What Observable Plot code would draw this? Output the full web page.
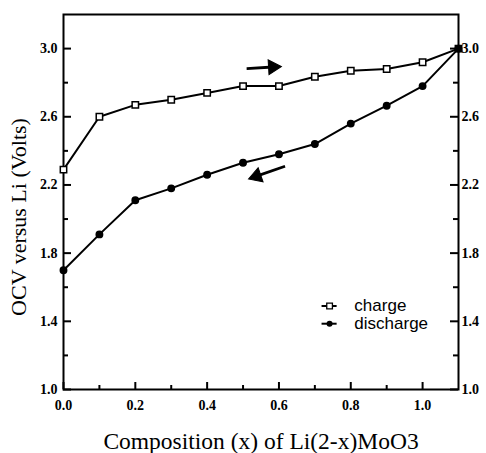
<!DOCTYPE html>
<html>
<head>
<meta charset="utf-8">
<script src="https://cdn.jsdelivr.net/npm/d3@7"></script>
<script src="https://cdn.jsdelivr.net/npm/@observablehq/plot@0.6"></script>
<style>
  html, body { margin: 0; padding: 0; background: #fff; }
  #chart svg { display: block; }
</style>
</head>
<body>
<div id="chart"></div>
<script>
// ---- data ----
const composition = [0.0, 0.1, 0.2, 0.3, 0.4, 0.5, 0.6, 0.7, 0.8, 0.9, 1.0, 1.1];
const chargeOCV    = [2.29, 2.60, 2.67, 2.70, 2.74, 2.78, 2.78, 2.835, 2.87, 2.88, 2.92, 3.0];
const dischargeOCV = [1.70, 1.91, 2.11, 2.18, 2.26, 2.33, 2.38, 2.44, 2.56, 2.665, 2.78, 3.0];

const seriesNames = ["charge", "discharge"];

// direction arrows (start / end in data units)
const arrowFromX = [0.51, 0.617];
const arrowFromY = [2.883, 2.31];
const arrowToX   = [0.608, 0.514];
const arrowToY   = [2.895, 2.234];

// ticks
const yLabelTicks = [1.0, 1.4, 1.8, 2.2, 2.6, 3.0];
const yMinorTicks = [1.2, 1.6, 2.0, 2.4, 2.8];
const xLabelTicks = [0.0, 0.2, 0.4, 0.6, 0.8, 1.0];
const xMinorTicks = [0.1, 0.3, 0.5, 0.7, 0.9];

const xTitle = "Composition (x) of Li(2-x)MoO3";
const yTitle = "OCV versus Li (Volts)";

// ---- layout ----
const W = 486, H = 453, ML = 63, MR = 28, MT = 14, MB = 64;
const PW = W - ML - MR, PH = H - MT - MB;
const xDomain = [0, 1.1], yDomain = [1.0, 3.2];
const kx = PW / (xDomain[1] - xDomain[0]);   // px per x unit
const ky = PH / (yDomain[1] - yDomain[0]);   // px per y unit

// ---- tables ----
const charge = composition.map((x, i) => ({x, y: chargeOCV[i]}));
const discharge = composition.map((x, i) => ({x, y: dischargeOCV[i]}));
const headBack = 9; // px from tip to triangle centre
const arrows = arrowFromX.map((_, i) => {
  const dxp = (arrowToX[i] - arrowFromX[i]) * kx;
  const dyp = -(arrowToY[i] - arrowFromY[i]) * ky;
  const len = Math.hypot(dxp, dyp);
  const ux = dxp / len, uy = dyp / len;
  return {
    x1: arrowFromX[i], y1: arrowFromY[i],
    hx: arrowToX[i] - ux * headBack / kx,
    hy: arrowToY[i] + uy * headBack / ky,
    angle: Math.atan2(ux, -uy) * 180 / Math.PI
  };
});

// legend placement (data units)
const legLineX1 = 0.72, legLineX2 = 0.762, legTextX = 0.81;
const legRows = [1.49, 1.386];
const legend = seriesNames.map((name, i) => ({name, y: legRows[i]}));

const serif = "Liberation Serif";
const sans = "Liberation Sans";

const tickFmt = d => d.toFixed(1);
const lab = {fontSize: 14, fontWeight: "bold", fontFamily: serif};
const tick = {stroke: "black", strokeWidth: 2};

const chart = Plot.plot({
  width: W,
  height: H,
  marginLeft: ML,
  marginRight: MR,
  marginTop: MT,
  marginBottom: MB,
  style: {fontFamily: serif, background: "white", color: "black"},
  x: {domain: xDomain},
  y: {domain: yDomain},
  marks: [
    // tick labels
    Plot.axisY(yLabelTicks, {anchor: "left", tickSize: 0, tickPadding: 6, tickFormat: tickFmt, ...lab, label: null}),
    Plot.axisY(yLabelTicks, {anchor: "right", tickSize: 0, tickPadding: 3, tickFormat: tickFmt, ...lab, label: null}),
    Plot.axisX(xLabelTicks, {anchor: "bottom", tickSize: 0, tickPadding: 11, tickFormat: tickFmt, ...lab, label: null}),
    // titles
    Plot.text([yTitle], {frameAnchor: "left", textAnchor: "middle", lineAnchor: "middle", rotate: -90, dx: -45, dy: 15, fontSize: 22, fontFamily: serif}),
    Plot.text([xTitle], {frameAnchor: "bottom", textAnchor: "middle", lineAnchor: "middle", dy: 52, fontSize: 23.5, fontFamily: serif}),
    // frame
    Plot.frame({stroke: "black", strokeWidth: 2}),
    // inward ticks
    Plot.ruleY(yLabelTicks, {y: d => d, x1: xDomain[0], x2: xDomain[0] + 8 / kx, ...tick}),
    Plot.ruleY(yMinorTicks, {y: d => d, x1: xDomain[0], x2: xDomain[0] + 5 / kx, ...tick}),
    Plot.ruleY(yLabelTicks, {y: d => d, x1: xDomain[1] - 8 / kx, x2: xDomain[1], ...tick}),
    Plot.ruleY(yMinorTicks, {y: d => d, x1: xDomain[1] - 5 / kx, x2: xDomain[1], ...tick}),
    Plot.ruleX(xLabelTicks, {x: d => d, y1: yDomain[0], y2: yDomain[0] + 7 / ky, ...tick}),
    Plot.ruleX(xMinorTicks, {x: d => d, y1: yDomain[0], y2: yDomain[0] + 4 / ky, ...tick}),
    // series
    Plot.line(charge, {x: "x", y: "y", stroke: "black", strokeWidth: 2}),
    Plot.line(discharge, {x: "x", y: "y", stroke: "black", strokeWidth: 2}),
    Plot.dot(charge, {x: "x", y: "y", symbol: "square", r: 3.6, stroke: "black", strokeWidth: 1.5, fill: "white"}),
    Plot.dot(discharge, {x: "x", y: "y", symbol: "circle", r: 3.2, fill: "black", stroke: "black"}),
    // arrows: shaft + filled head
    Plot.link(arrows, {x1: "x1", y1: "y1", x2: "hx", y2: "hy", stroke: "black", strokeWidth: 2.8}),
    Plot.dot(arrows, {x: "hx", y: "hy", symbol: "triangle", rotate: "angle", r: 5.5, fill: "black", stroke: "black", strokeWidth: 1}),
    // legend
    Plot.ruleY(legend, {y: "y", x1: legLineX1, x2: legLineX2, stroke: "black", strokeWidth: 2}),
    Plot.dot(legend.slice(0, 1), {x: (legLineX1 + legLineX2) / 2, y: "y", symbol: "square", r: 3.2, stroke: "black", strokeWidth: 1.3, fill: "white"}),
    Plot.dot(legend.slice(1), {x: (legLineX1 + legLineX2) / 2, y: "y", symbol: "circle", r: 3, fill: "black"}),
    Plot.text(legend, {x: legTextX, y: "y", text: "name", textAnchor: "start", lineAnchor: "middle", fontSize: 17, fontFamily: sans})
  ]
});

document.getElementById("chart").appendChild(chart);
</script>
</body>
</html>
